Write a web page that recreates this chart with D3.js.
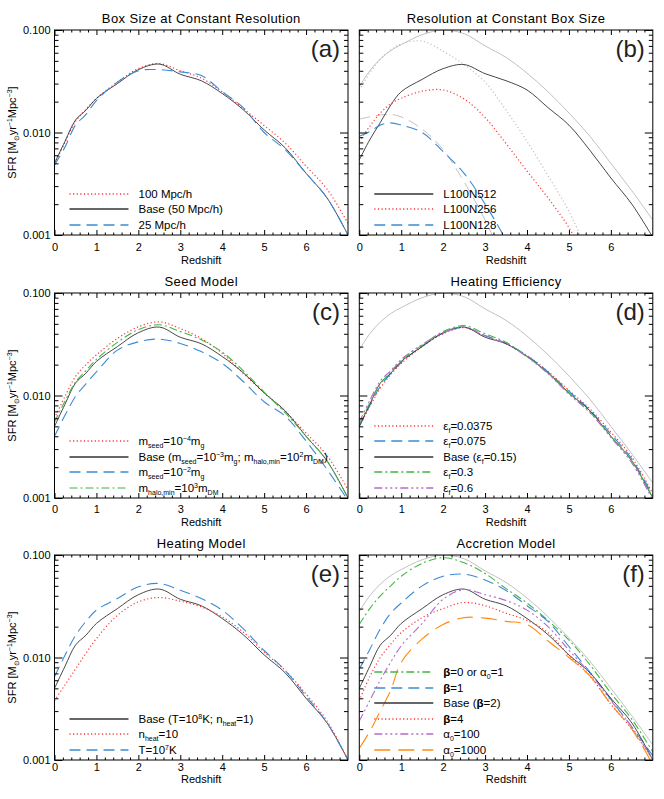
<!DOCTYPE html>
<html>
<head>
<meta charset="utf-8">
<script src="https://cdn.jsdelivr.net/npm/d3@7"></script>
<style>
body{margin:0;background:#fff;}
text{font-family:"Liberation Sans",Arial,sans-serif;}
</style>
</head>
<body>
<script>
// redshift grid the curves were read at
var redshift = [0,0.25,0.5,0.75,1,1.5,2,2.5,3,3.5,4,4.5,5,5.5,6,6.5,7];

// SFR values (Msun/yr/Mpc^3)
var sfrBase    = [0.0050,0.0082,0.0132,0.0165,0.0215,0.0300,0.0410,0.0465,0.0370,0.0320,0.0240,0.0167,0.0106,0.0071,0.0040,0.0023,0.0010];
var sfrGray    = [0.028,0.040,0.052,0.063,0.072,0.090,0.100,0.092,0.070,0.054,0.038,0.025,0.0155,0.0092,0.0050,0.0027,0.0014];

var sfrBox100  = [0.0050,0.0080,0.0128,0.0168,0.0215,0.0310,0.0420,0.0470,0.0400,0.0340,0.0250,0.0172,0.0117,0.0079,0.0047,0.0028,0.0013];
var sfrBox25   = [0.0048,0.0072,0.0118,0.0150,0.0205,0.0310,0.0400,0.0410,0.0390,0.0360,0.0250,0.0175,0.0100,0.0068,0.0040,0.0023,0.0010];

var sfrN512    = [0.0054,0.0085,0.0125,0.0185,0.0250,0.0330,0.0420,0.0460,0.0375,0.0320,0.0260,0.0175,0.0118,0.0067,0.0036,0.0020,0.00095];
var sfrN256    = [0.0082,0.0115,0.0155,0.0190,0.0216,0.0253,0.0260,0.0212,0.0140,0.0078,0.0042,0.0023,0.00118,0.0005,null,null,null];
var sfrN128    = [0.0092,0.0102,0.0118,0.0124,0.0118,0.0100,0.0065,0.0040,0.0020,0.0009,0.0004,null,null,null,null,null,null];
var sfrGrayDot = [0.026,0.038,0.052,0.064,0.073,0.078,0.062,0.046,0.031,0.0165,0.0082,0.0038,0.0017,0.0006,null,null,null];
var sfrGrayDsh = [0.0135,0.0142,0.0148,0.0150,0.0142,0.0108,0.0068,0.0033,0.0014,0.0005,null,null,null,null,null,null,null];

var sfrSeed4   = [0.0060,0.0098,0.0153,0.0200,0.0249,0.0360,0.0468,0.0523,0.0450,0.0360,0.0258,0.0165,0.0106,0.0070,0.0043,0.0026,0.0012];
var sfrSeed2   = [0.0040,0.0064,0.0098,0.0130,0.0170,0.0277,0.0334,0.0355,0.0322,0.0268,0.0206,0.0137,0.0087,0.0063,0.0036,0.0019,0.00095];
var sfrHalo3   = [0.0055,0.0088,0.0135,0.0175,0.0225,0.0330,0.0440,0.0490,0.0420,0.0350,0.0265,0.0175,0.0108,0.0068,0.0040,0.0023,0.0010];

var sfrEff0375 = [0.0050,0.0078,0.0118,0.0160,0.0205,0.0300,0.0400,0.0460,0.0380,0.0320,0.0245,0.0172,0.0112,0.0074,0.0044,0.0025,0.0011];
var sfrEff075  = [0.0050,0.0080,0.0123,0.0163,0.0210,0.0305,0.0405,0.0462,0.0385,0.0322,0.0245,0.0170,0.0110,0.0072,0.0042,0.0024,0.00105];
var sfrEff3    = [0.0052,0.0085,0.0130,0.0170,0.0220,0.0310,0.0420,0.0480,0.0400,0.0330,0.0240,0.0165,0.0105,0.0069,0.0040,0.0023,0.0010];
var sfrEff6    = [0.0055,0.0090,0.0138,0.0175,0.0225,0.0315,0.0410,0.0465,0.0380,0.0318,0.0238,0.0163,0.0103,0.0068,0.0039,0.0022,0.00095];

var sfrNheat10 = [0.0038,0.0054,0.0077,0.0110,0.0153,0.0258,0.0349,0.0385,0.0354,0.0312,0.0249,0.0177,0.0113,0.0075,0.0044,0.0024,0.0010];
var sfrT7      = [0.0065,0.0105,0.0164,0.0225,0.0290,0.0376,0.0490,0.0527,0.0454,0.0376,0.0289,0.0191,0.0117,0.0075,0.0042,0.0023,0.0010];

var sfrBeta0   = [0.021,0.030,0.040,0.050,0.062,0.083,0.094,0.084,0.066,0.047,0.034,0.023,0.0148,0.0085,0.0045,0.0025,0.0012];
var sfrBeta1   = [0.0077,0.0120,0.0190,0.0270,0.0340,0.0500,0.0620,0.0650,0.0570,0.0450,0.0320,0.0225,0.0128,0.0072,0.0039,0.0021,0.0011];
var sfrBeta4   = [0.0038,0.0065,0.0100,0.0135,0.0175,0.0245,0.0300,0.0344,0.0320,0.0270,0.0230,0.0175,0.0105,0.0066,0.0035,0.0020,0.0010];
var sfrAlpha100  = [0.0024,0.0038,0.0060,0.0090,0.0130,0.0215,0.0370,0.0460,0.0410,0.0360,0.0290,0.0200,0.0118,0.0070,0.0038,0.0021,0.0010];
var sfrAlpha1000 = [0.0013,0.0019,0.0030,0.0048,0.0090,0.0152,0.0210,0.0245,0.0242,0.0225,0.0210,0.0145,0.0100,0.0066,0.0035,0.0020,0.0009];

// axis ticks
var xMajor = [0,1,2,3,4,5,6];
var xMinor = d3.range(1,35).filter(function(k){return k % 5 != 0;}).map(function(k){return k/5;});
var yMajor = [0.001,0.01,0.1];
var yMinor = [2,3,4,5,6,7,8,9].map(function(k){return k*0.001;}).concat([2,3,4,5,6,7,8,9].map(function(k){return k*0.01;}));

var titles = ["Box Size at Constant Resolution","Resolution at Constant Box Size","Seed Model","Heating Efficiency","Heating Model","Accretion Model"];
var letters = ["(a)","(b)","(c)","(d)","(e)","(f)"];

// line styles
var styles = {
    black:   {color:"#333", dash:null, w:0.9},
    red:     {color:"#ff3535", dash:"1.2,2.4", w:1.2},
    blue:    {color:"#3d8ad4", dash:"11,6", w:1.1},
    green:   {color:"#44b644", dash:"8,3,2,3", w:1.1},
    lgreen:  {color:"#7dcc7d", dash:"8,3,2,3", w:1.2},
    purple:  {color:"#b46ccb", dash:"8,3,2,3,2,3,2,3", w:1.1},
    orange:  {color:"#ff8a10", dash:"16,8", w:1.1},
    gray:    {color:"#c0c0c0", dash:null, w:1},
    grayDot: {color:"#c0c0c0", dash:"1.2,2.4", w:1.2},
    grayDsh: {color:"#c0c0c0", dash:"11,6", w:1}
};

var panels = [
    {series:[[sfrBox100,"red"],[sfrBase,"black"],[sfrBox25,"blue"]],
     legend:[["red",[["100 Mpc/h"]]],["black",[["Base (50 Mpc/h)"]]],["blue",[["25 Mpc/h"]]]]},
    {series:[[sfrGray,"gray"],[sfrGrayDot,"grayDot"],[sfrGrayDsh,"grayDsh"],[sfrN512,"black"],[sfrN256,"red"],[sfrN128,"blue"]],
     legend:[["black",[["L100N512"]]],["red",[["L100N256"]]],["blue",[["L100N128"]]]]},
    {series:[[sfrSeed4,"red"],[sfrBase,"black"],[sfrSeed2,"blue"],[sfrHalo3,"green"]],
     legend:[["red",[["m"],["seed","sub"],["=10"],["\u22124","sup"],["m"],["g","sub"]]],
             ["black",[["Base (m"],["seed","sub"],["=10"],["\u22123","sup"],["m"],["g","sub"],["; m"],["halo,min","sub"],["=10"],["2","sup"],["m"],["DM","sub"],[")"]]],
             ["blue",[["m"],["seed","sub"],["=10"],["\u22122","sup"],["m"],["g","sub"]]],
             ["lgreen",[["m"],["halo,min","sub"],["=10"],["3","sup"],["m"],["DM","sub"]]]]},
    {series:[[sfrGray,"gray"],[sfrEff0375,"red"],[sfrEff075,"blue"],[sfrBase,"black"],[sfrEff3,"green"],[sfrEff6,"purple"]],
     legend:[["red",[["\u03b5"],["f","sub"],["=0.0375"]]],
             ["blue",[["\u03b5"],["f","sub"],["=0.075"]]],
             ["black",[["Base (\u03b5"],["f","sub"],["=0.15)"]]],
             ["green",[["\u03b5"],["f","sub"],["=0.3"]]],
             ["purple",[["\u03b5"],["f","sub"],["=0.6"]]]]},
    {series:[[sfrBase,"black"],[sfrNheat10,"red"],[sfrT7,"blue"]],
     legend:[["black",[["Base (T=10"],["8","sup"],["K; n"],["heat","sub"],["=1)"]]],
             ["red",[["n"],["heat","sub"],["=10"]]],
             ["blue",[["T=10"],["7","sup"],["K"]]]]},
    {series:[[sfrGray,"gray"],[sfrBeta0,"green"],[sfrBeta1,"blue"],[sfrBase,"black"],[sfrBeta4,"red"],[sfrAlpha100,"purple"],[sfrAlpha1000,"orange"]],
     legend:[["green",[["\u03b2","b"],["=0 or \u03b1"],["0","sub"],["=1"]]],
             ["blue",[["\u03b2","b"],["=1"]]],
             ["black",[["Base ("],["\u03b2","b"],["=2)"]]],
             ["red",[["\u03b2","b"],["=4"]]],
             ["purple",[["\u03b1"],["0","sub"],["=100"]]],
             ["orange",[["\u03b1"],["0","sub"],["=1000"]]]]}
];

var colLeft = [54.5, 359.3], rowTop = [30, 293, 555];
var panelW = 293.5, panelH = 205;
var tickPad = [8, 7, 3], labelOff = [29, 28, 23];

var svg = d3.select("body").append("svg")
    .attr("width", 664)
    .attr("height", 799);

function richText(sel, parts){
    var shift = 0;
    parts.forEach(function(p){
        var kind = p[1];
        var target = kind == "sub" ? 2.5 : (kind == "sup" ? -4.5 : 0);
        var t = sel.append("tspan").text(p[0]).attr("dy", target - shift);
        shift = target;
        if (kind == "sub" || kind == "sup") t.attr("font-size", 7);
        if (kind == "b") t.attr("font-weight", "bold");
    });
}

function styleLine(sel, s, w){
    sel.attr("fill", "none")
        .attr("stroke", s.color)
        .attr("stroke-width", w || s.w)
        .attr("stroke-dasharray", s.dash);
}

panels.forEach(function(p, i){
    var col = i % 2, row = Math.floor(i / 2);
    var left = colLeft[col], top = rowTop[row];

    var x = d3.scaleLinear().domain([0, 7]).range([left, left + panelW]);
    var y = d3.scaleLog().domain([0.001, 0.1]).range([top + panelH, top]);

    var g = svg.append("g");

    g.append("clipPath").attr("id", "clip" + i)
        .append("rect")
        .attr("x", left).attr("y", top)
        .attr("width", panelW).attr("height", panelH);

    var line = d3.line()
        .defined(function(d) {return d[1] != null;})
        .x(function(d) {return x(d[0]);})
        .y(function(d) {return y(d[1]);})
        .curve(d3.curveCatmullRom);

    var lines = g.append("g").attr("clip-path", "url(#clip" + i + ")");
    p.series.forEach(function(s){
        lines.append("path")
            .datum(d3.zip(redshift, s[0]))
            .attr("d", line)
            .call(styleLine, styles[s[1]]);
    });

    // axes, ticks pointing inward
    function clean(a) {
        a.select(".domain").remove();
        a.attr("font-size", 11).attr("font-family", null);
    }
    var bottom = top + panelH, right = left + panelW;
    g.append("g").attr("transform", "translate(0," + bottom + ")")
        .call(d3.axisBottom(x).tickValues(xMajor).tickSize(-5).tickPadding(tickPad[row]).tickFormat(d3.format("d")))
        .call(clean);
    g.append("g").attr("transform", "translate(0," + bottom + ")")
        .call(d3.axisBottom(x).tickValues(xMinor).tickSize(-2.5).tickFormat(""))
        .call(clean);
    g.append("g").attr("transform", "translate(0," + top + ")")
        .call(d3.axisTop(x).tickValues(xMajor).tickSize(-5).tickFormat(""))
        .call(clean);
    g.append("g").attr("transform", "translate(0," + top + ")")
        .call(d3.axisTop(x).tickValues(xMinor).tickSize(-2.5).tickFormat(""))
        .call(clean);
    g.append("g").attr("transform", "translate(" + left + ",0)")
        .call(d3.axisLeft(y).tickValues(yMajor).tickSize(-8).tickPadding(4)
            .tickFormat(col == 0 ? d3.format(".3f") : function(){return "";}))
        .call(clean);
    g.append("g").attr("transform", "translate(" + left + ",0)")
        .call(d3.axisLeft(y).tickValues(yMinor).tickSize(-4).tickFormat(""))
        .call(clean);
    g.append("g").attr("transform", "translate(" + right + ",0)")
        .call(d3.axisRight(y).tickValues(yMajor).tickSize(-8).tickFormat(""))
        .call(clean);
    g.append("g").attr("transform", "translate(" + right + ",0)")
        .call(d3.axisRight(y).tickValues(yMinor).tickSize(-4).tickFormat(""))
        .call(clean);

    g.append("rect")
        .attr("x", left).attr("y", top)
        .attr("width", panelW).attr("height", panelH)
        .attr("fill", "none").attr("stroke", "#000").attr("stroke-width", 1);

    g.append("text")
        .attr("x", left + panelW / 2).attr("y", top - 7)
        .attr("text-anchor", "middle").attr("font-size", 13)
        .attr("letter-spacing", 0.4)
        .text(titles[i]);

    g.append("text")
        .attr("x", right - 8).attr("y", top + 27)
        .attr("text-anchor", "end").attr("font-size", 24).attr("fill", "#222")
        .text(letters[i]);

    g.append("text")
        .attr("x", left + panelW / 2).attr("y", bottom + labelOff[row])
        .attr("text-anchor", "middle").attr("font-size", 11)
        .text("Redshift");

    if (col == 0) {
        var yl = g.append("text")
            .attr("transform", "translate(16," + (top + panelH / 2) + ") rotate(-90)")
            .attr("text-anchor", "middle").attr("font-size", 11);
        richText(yl, [["SFR [M"],["\u2299","sub"],["yr"],["\u22121","sup"],["Mpc"],["\u22123","sup"],["]"]]);
    }

    // legend
    var n = p.legend.length, step = 15.5;
    p.legend.forEach(function(item, k){
        var ly = Math.round(bottom - 10.5 - (n - 1 - k) * step);
        g.append("line")
            .attr("x1", left + 15).attr("x2", left + 74)
            .attr("y1", ly).attr("y2", ly)
            .call(styleLine, styles[item[0]], 1.6);
        var t = g.append("text")
            .attr("x", left + 84).attr("y", ly + 4)
            .attr("font-size", 11.5);
        richText(t, item[1]);
    });
});
</script>
</body>
</html>
